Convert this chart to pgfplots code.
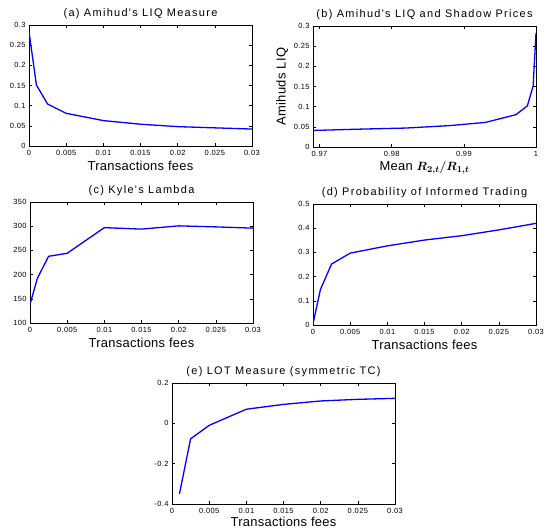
\documentclass[border=0pt]{standalone}
\usepackage{amsmath}
\usepackage{fontspec}
\setmainfont{Liberation Sans}
\newfontfamily\titlefont[LetterSpace=12]{Liberation Sans}
\newfontfamily\labelfont[LetterSpace=2]{Liberation Sans}
\newfontfamily\tickfont[LetterSpace=5]{Liberation Sans}
\usepackage{pgfplots}
\pgfplotsset{compat=1.18}

\pgfplotsset{
  panel/.style={
    scale only axis, width=223bp, height=121bp,
    anchor=north west,
    tick align=inside,
    axis line style={line width=0.8bp},
    every tick/.style={black, line width=0.6bp},
    major tick length=3bp,
    tick label style={font=\tickfont\fontsize{7.5}{8}\selectfont},
    xticklabel style={yshift=-1bp},
    /pgf/number format/assume math mode=true,
    scaled x ticks=false, scaled y ticks=false,
    title style={font=\titlefont\fontsize{11}{12}\selectfont, yshift=-3.5bp},
    label style={font=\labelfont\fontsize{13}{14}\selectfont},
    xlabel style={yshift=-0.5bp, inner sep=1bp},
    xticklabel style={/pgf/number format/fixed, /pgf/number format/precision=3},
    yticklabel style={/pgf/number format/fixed, /pgf/number format/precision=2},
    xmin=0, xmax=0.03,
    xtick={0,0.005,0.01,0.015,0.02,0.025,0.03},
  },
  line/.style={blue, line width=1.3bp, no marks},
}

\begin{document}
\begin{tikzpicture}[x=1bp,y=1bp]
\path[use as bounding box] (0,0) rectangle (547,-529);

% (a)
\begin{axis}[panel, at={(29bp,-25bp)},
  title={(a) Amihud's LIQ Measure}, xlabel={Transactions fees},
  ymin=0, ymax=0.3, ytick={0,0.05,0.1,0.15,0.2,0.25,0.3}]
\addplot[line] coordinates {
  (0,0.283) (0.001,0.151) (0.0025,0.104) (0.005,0.081) (0.01,0.063)
  (0.015,0.054) (0.02,0.048) (0.025,0.045) (0.03,0.042)
};
\end{axis}

% (b)
\begin{axis}[panel, at={(313bp,-26bp)},
  title={(b) Amihud's LIQ and Shadow Prices},
  xlabel={Mean $\boldsymbol{R_{2,t}/R_{1,t}}$}, ylabel={Amihuds LIQ},
  ylabel style={yshift=-1bp},
  xmin=0.9691, xmax=1, xtick={0.97,0.98,0.99,1},
  xticklabel style={/pgf/number format/precision=2},
  ymin=0, ymax=0.3, ytick={0,0.05,0.1,0.15,0.2,0.25,0.3}]
\addplot[line] coordinates {
  (0.9691,0.041) (0.975,0.044) (0.982,0.047) (0.988,0.053) (0.993,0.061)
  (0.9972,0.080) (0.9988,0.102) (0.9996,0.151) (1.0,0.283)
};
\end{axis}

% (c)
\begin{axis}[panel, at={(30bp,-202bp)},
  title={(c) Kyle's Lambda}, xlabel={Transactions fees},
  ymin=100, ymax=350, ytick={100,150,200,250,300,350}]
\addplot[line] coordinates {
  (0,138.5) (0.001,192.6) (0.0025,237.8) (0.005,244) (0.01,297)
  (0.015,294) (0.02,300.7) (0.025,298.6) (0.03,296)
};
\end{axis}

% (d)
\begin{axis}[panel, at={(313bp,-204bp)},
  title={(d) Probability of Informed Trading}, xlabel={Transactions fees},
  ymin=0, ymax=0.5, ytick={0,0.1,0.2,0.3,0.4,0.5}]
\addplot[line] coordinates {
  (0,0.005) (0.001,0.147) (0.0025,0.252) (0.005,0.297) (0.01,0.327)
  (0.015,0.351) (0.02,0.369) (0.025,0.393) (0.03,0.420)
};
\end{axis}

% (e)
\begin{axis}[panel, at={(172bp,-383bp)},
  title={(e) LOT Measure (symmetric TC)}, xlabel={Transactions fees},
  xlabel style={yshift=2bp},
  ymin=-0.4, ymax=0.2, ytick={-0.4,-0.2,0,0.2},
  yticklabel style={/pgf/number format/precision=1}]
\addplot[line] coordinates {
  (0.001,-0.35) (0.0025,-0.077) (0.005,-0.010) (0.01,0.070)
  (0.015,0.094) (0.02,0.111) (0.025,0.119) (0.03,0.124)
};
\end{axis}
\end{tikzpicture}
\end{document}
